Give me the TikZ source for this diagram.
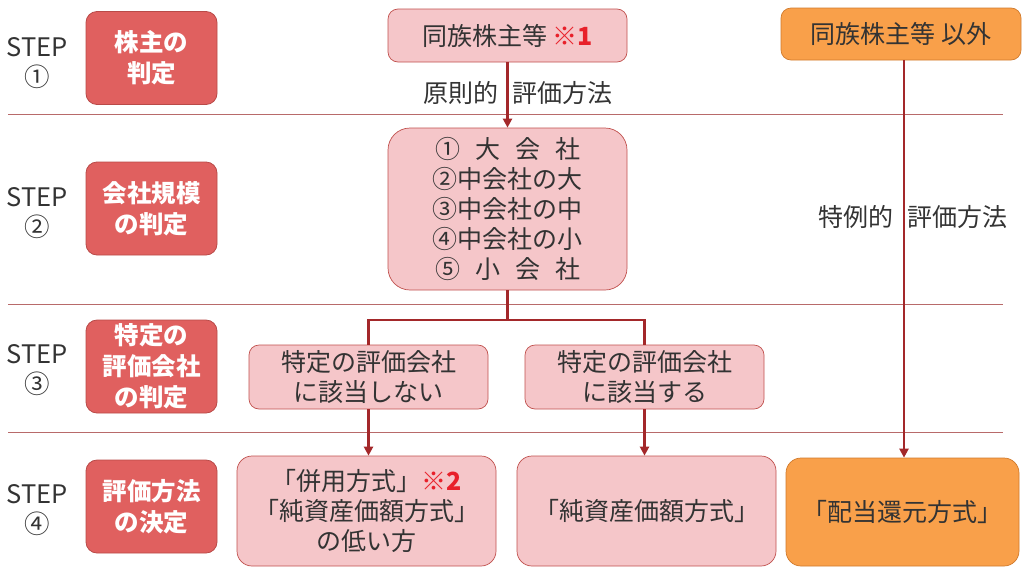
\documentclass[tikz,border=0pt]{standalone}
\usepackage{fontspec}
\setmainfont{Noto Sans CJK JP}
\usetikzlibrary{arrows.meta}
\definecolor{boxred}{HTML}{E0605F}
\definecolor{boxredline}{HTML}{B94A48}
\definecolor{pinkfill}{HTML}{F5C6C9}
\definecolor{pinkline}{HTML}{C0504D}
\definecolor{orgfill}{HTML}{F9A04A}
\definecolor{orgline}{HTML}{D07A2C}
\definecolor{connred}{HTML}{A3282A}
\definecolor{sepline}{HTML}{B86A6A}
\definecolor{txt}{HTML}{333333}
\definecolor{markred}{HTML}{E8202A}
\tikzset{
  stepbox/.style={draw=boxredline, fill=boxred, rounded corners=11pt, line width=0.8pt,
    text=white, font=\fontsize{24.5}{31}\selectfont\bfseries, align=center, inner sep=0pt,
    minimum width=131pt, minimum height=93pt},
  pinkbox/.style={draw=pinkline, fill=pinkfill, line width=0.7pt, text=txt,
    font=\fontsize{25}{30}\selectfont, align=center, inner sep=0pt},
  orgbox/.style={draw=orgline, fill=orgfill, line width=0.7pt, text=txt,
    font=\fontsize{25}{30}\selectfont, align=center, inner sep=0pt},
  steplbl/.style={text=txt, font=\fontsize{25.5}{30}\selectfont, align=center, inner sep=0pt},
  lbl/.style={text=txt, font=\fontsize{25}{30}\selectfont, inner sep=0pt},
  conn/.style={draw=connred, line width=2.6pt},
  arr/.style={conn, -{Triangle[length=9pt,width=9pt]}},
  sep/.style={draw=sepline, line width=0.8pt},
  mark/.style={text=markred, font=\bfseries}
}
\newcommand{\gp}{\hspace{0.6em}}
\begin{document}
\begin{tikzpicture}[x=1pt,y=-1pt]
\useasboundingbox (0,0) rectangle (1024,576);
% separators
\draw[sep] (8,114) -- (1003,114);
\draw[sep] (8,304) -- (1003,304);
\draw[sep] (8,432) -- (1003,432);
% step labels
\node[steplbl] (st1) at (37,63) {STEP\\①};
\node[steplbl] (st2) at (37,213) {STEP\\②};
\node[steplbl] (st3) at (37,370) {STEP\\③};
\node[steplbl] (st4) at (37,510) {STEP\\④};
% step boxes
\node[stepbox] (sb1) at (151.5,58) {株主の\\判定};
\node[stepbox] (sb2) at (151.5,208.5) {会社規模\\の判定};
\node[stepbox] (sb3) at (151.5,366.5) {特定の\\評価会社\\の判定};
\node[stepbox] (sb4) at (151.5,506.5) {評価方法\\の決定};
% step 1
\node[pinkbox, rounded corners=10pt, minimum width=239pt, minimum height=53pt] (dz) at (507.5,35.5) {同族株主等 {\color{markred}\bfseries ※1}};
\node[orgbox, rounded corners=10pt, minimum width=240pt, minimum height=52pt] (ot) at (901,34) {同族株主等 以外};
% step 2
\node[pinkbox, rounded corners=22pt, minimum width=239pt, minimum height=162pt] (sz) at (507.5,209) {①\gp 大\gp 会\gp 社\\②中会社の大\\③中会社の中\\④中会社の小\\⑤\gp 小\gp 会\gp 社};
\node[lbl] (l1) at (518,93) {原則的\hspace{0.55em}評価方法};
\node[lbl] (l2) at (913,217) {特例的\hspace{0.55em}評価方法};
% step 3
\node[pinkbox, rounded corners=10pt, minimum width=239pt, minimum height=64pt] (na) at (368.5,377) {特定の評価会社\\に該当しない};
\node[pinkbox, rounded corners=10pt, minimum width=239pt, minimum height=64pt] (ya) at (644.5,377) {特定の評価会社\\に該当する};
% step 4
\node[pinkbox, rounded corners=15pt, minimum width=259pt, minimum height=110pt] (m1) at (366.5,511) {「併用方式」{\color{markred}\bfseries ※2}\\「純資産価額方式」\\の低い方};
\node[pinkbox, rounded corners=15pt, minimum width=259pt, minimum height=110pt] (m2) at (646.5,511) {「純資産価額方式」};
\node[orgbox, rounded corners=15pt, minimum width=233pt, minimum height=108pt] (m3) at (902.5,512) {「配当還元方式」};
% connectors
\coordinate (br) at (507.5,320);
\draw[arr] (dz.south) -- (sz.north);
\draw[conn] (sz.south) -- (br) -| (na.north);
\draw[conn] (br) -| (ya.north);
\draw[arr] (na.south) -- (na.south |- m1.north);
\draw[arr] (ya.south) -- (ya.south |- m2.north);
\draw[arr] ([xshift=3pt]ot.south) -- ([xshift=3pt]ot.south |- m3.north);
\end{tikzpicture}
\end{document}
